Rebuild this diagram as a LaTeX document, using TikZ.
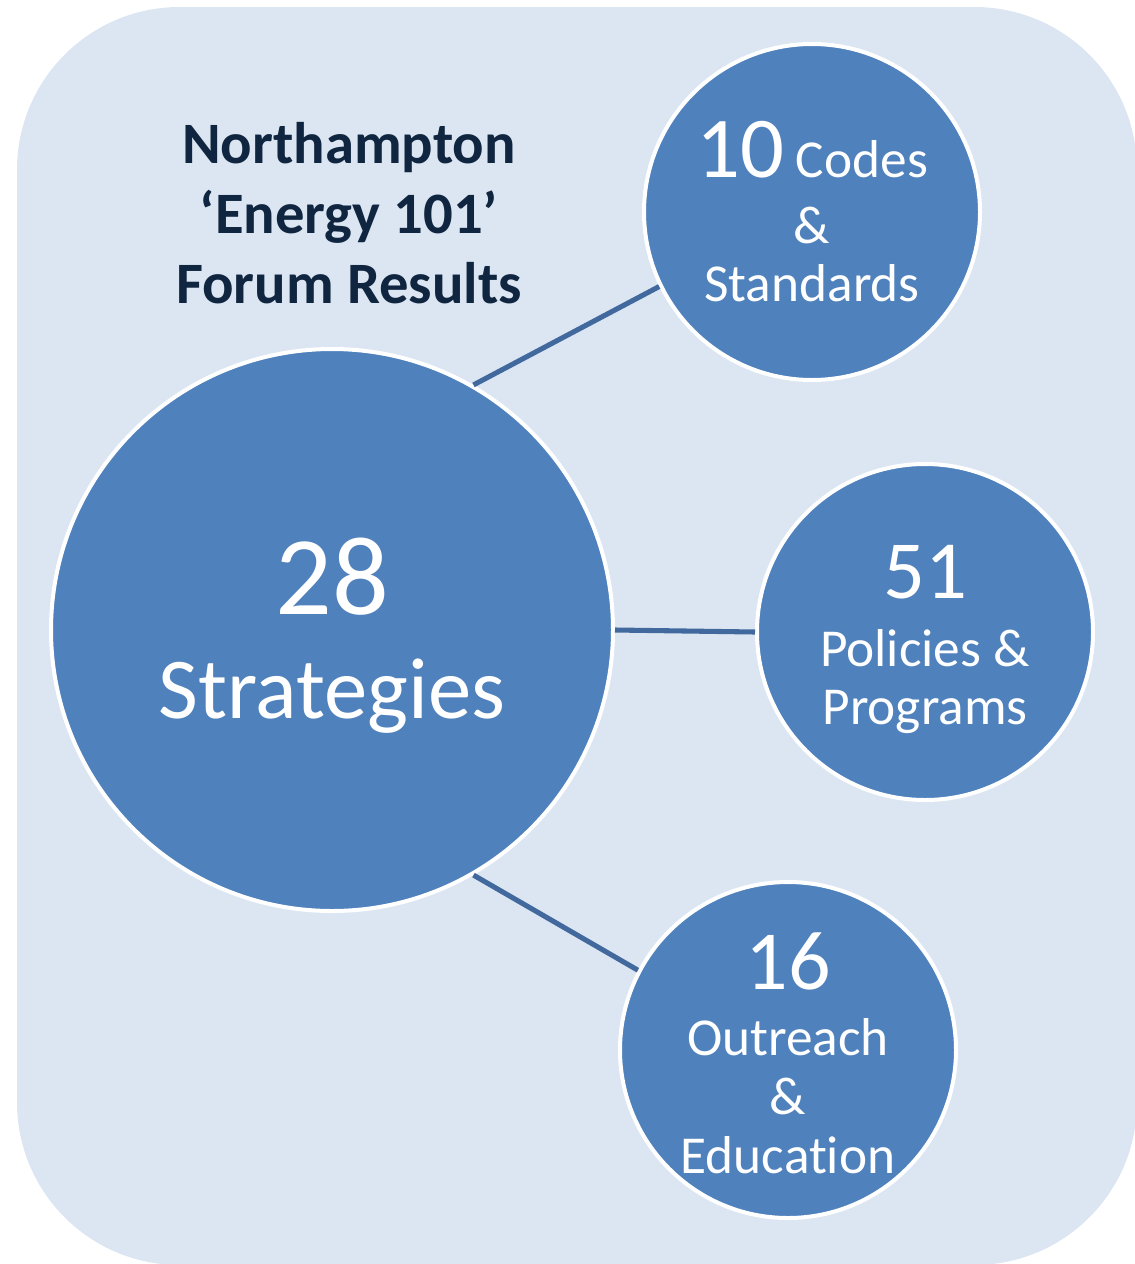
\documentclass[tikz,border=0pt]{standalone}
\usepackage{fontspec}
\setmainfont[Ligatures={NoCommon,NoRequired},Contextuals=NoAlternate]{Carlito}
\definecolor{panelblue}{HTML}{DCE6F2}
\definecolor{bubbleblue}{HTML}{4F81BD}
\definecolor{linkblue}{HTML}{41699D}
\definecolor{titlenavy}{HTML}{10253F}
\begin{document}
\begin{tikzpicture}[x=0.75pt,y=-0.75pt,
  bubble/.style={circle,fill=bubbleblue,draw=white,line width=3pt,inner sep=0pt,
    align=center,text=white,font=\fontsize{40}{44}\selectfont},
  smallbubble/.style={bubble,minimum size=252pt},
  link/.style={draw=linkblue,line width=3.8pt}]
\useasboundingbox (0,0) rectangle (1135,1264);
\fill[panelblue,rounded corners=122pt] (17,7) rectangle (1137,1265);

\node[font=\bfseries\fontsize{44}{52.5}\selectfont,text=titlenavy,align=center] (title) at (349,213)
  {Northampton\\‘Energy 101’\\Forum Results};

\node[bubble,minimum size=421.5pt,font=\fontsize{65}{78}\selectfont] (strat) at (332,630)
  {\rule{0pt}{66pt}{\fontsize{84}{84}\selectfont 28}\\Strategies};
\node[smallbubble] (codes) at (812,212)
  {{\fontsize{65}{65}\selectfont 10} Codes\\[5pt]\&\\Standards};
\node[smallbubble] (policies) at (925,632)
  {\rule{0pt}{51pt}{\fontsize{62}{62}\selectfont 51}\\[7pt]Policies \&\\Programs};
\node[smallbubble] (outreach) at (788,1050)
  {\rule{0pt}{47pt}{\fontsize{63}{63}\selectfont 16}\\[6pt]Outreach\\\&\\Education};

\draw[link] (strat.60) -- (codes.206);
\draw[link] (strat.east) -- (policies.west);
\draw[link] (strat.-60) -- (outreach.152);
\end{tikzpicture}
\end{document}
